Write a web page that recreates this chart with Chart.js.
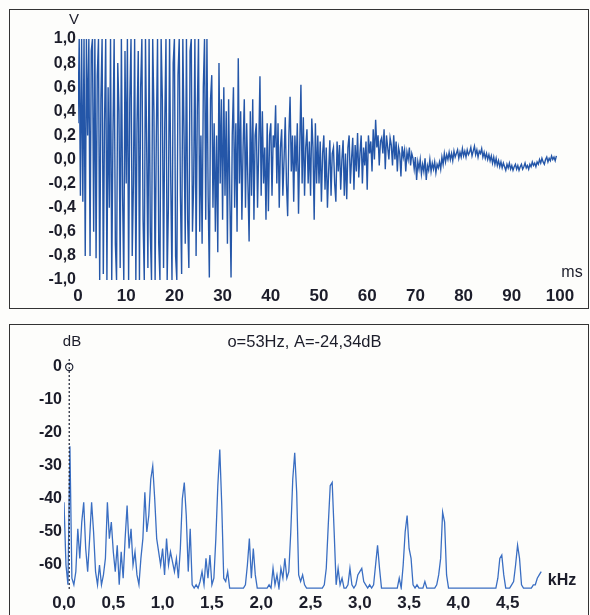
<!DOCTYPE html>
<html><head><meta charset="utf-8">
<script src="https://cdn.jsdelivr.net/npm/chart.js@4"></script>
<style>
html,body{margin:0;padding:0;background:#fdfdfb;width:590px;height:615px;overflow:hidden;position:relative;}
.box{position:absolute;border:1.5px solid #333;box-sizing:border-box;}
#box1{left:9px;top:9px;width:580px;height:300px;}
#box2{left:9px;top:324px;width:580px;height:310px;}
canvas{position:absolute;left:0;}
#c1{top:0}
#c2{top:315px}
</style></head><body>
<div class="box" id="box1"></div><div class="box" id="box2"></div>
<canvas id="c1" width="590" height="315" style="width:590px;height:315px"></canvas>
<canvas id="c2" width="590" height="300" style="width:590px;height:300px"></canvas>
<script>
// ---------- Top chart: waveform (V vs ms), one sample every 0.25 ms ----------
const waveStepMs = 0.25;
const waveVolts = [
 0.3, 1.0, -0.3, 1.0, -0.35, 1.0, -0.8, 1.0, 0.2, 1.0, -0.8, 0.9, 1.0, -0.6, 1.0, -0.82, 0.7, 1.0, -1.0, 0.5,
 1.0, -0.95, 0.3, 1.0, -1.0, 0.6, -0.4, 1.0, -1.0, 0.2, 1.0, -0.7, -1.0, 0.8, 0.4, -0.9, 1.0, -0.3, -1.0, 0.9,
 -0.2, 1.0, -1.0, 0.5, 1.0, -0.8, -0.2, 1.0, -1.0, 0.3, 0.9, -1.0, 0.6, 1.0, -0.5, -1.0, 1.0, 0.1, -0.9, 1.0,
 -0.6, -1.0, 1.0, 0.4, -1.0, 0.2, 1.0, -0.7, -1.0, 1.0, 0.5, -0.9, 0.3, 1.0, -1.0, -0.4, 1.0, -0.2, -1.0, 0.8,
 1.0, -0.8, -1.0, 0.7, 1.0, -0.3, -0.95, 1.0, 0.2, -0.7, 1.0, -0.5, -0.9, 0.9, 1.0, -0.6, -0.2, 1.0, -0.8, 0.4,
 1.0, -0.6, 0.2, -0.7, 0.6, 1.0, -0.5, 1.0, -0.3, -0.98, 0.5, 0.7, -0.4, 0.3, -0.6, 0.2, -0.77, 0.8, -0.2, 0.5,
 -0.5, 0.6, -0.3, 0.4, -0.7, 0.5, -0.3, -0.98, 0.2, 0.6, -0.4, 0.3, -0.6, 0.84, -0.2, 0.4, -0.5, 0.1, 0.5, -0.4,
 0.3, -0.2, -0.68, 0.4, -0.3, 0.5, -0.5, 0.2, 0.3, -0.4, 0.1, 0.69, -0.3, 0.4, -0.2, 0.1, -0.5, 0.3, -0.43, 0.2,
 0.3, -0.3, 0.2, 0.1, 0.45, -0.2, 0.3, -0.4, 0.1, 0.25, -0.3, 0.0, 0.35, -0.2, -0.47, 0.2, 0.52, -0.1, 0.2, -0.35,
 0.2, -0.1, 0.3, -0.45, 0.1, 0.62, -0.2, 0.35, -0.3, 0.1, 0.25, -0.2, 0.15, -0.3, 0.34, 0.1, -0.5, 0.3, -0.2, 0.2,
 -0.2, 0.15, -0.35, 0.05, 0.2, -0.25, 0.1, -0.4, -0.1, 0.16, -0.3, 0.05, 0.1, -0.2, -0.35, 0.15, -0.1, 0.12, -0.25, 0.0,
 0.16, -0.3, 0.05, -0.33, 0.1, 0.2, -0.2, 0.0, 0.18, -0.25, 0.12, -0.1, 0.22, -0.15, 0.05, 0.2, -0.2, 0.1, -0.05, 0.15,
 -0.25, 0.2, 0.05, 0.15, -0.1, 0.25, 0.0, 0.33, 0.1, 0.2, -0.05, 0.15, 0.18, 0.05, 0.25, -0.08, 0.2, 0.1, 0.0, 0.18,
 0.12, -0.05, 0.2, 0.0, 0.15, -0.1, 0.1, 0.05, -0.14, 0.11, 0.02, 0.08, -0.1, 0.06, 0.0, 0.1, -0.05, 0.05, 0.01, -0.08,
 0.02, -0.17, -0.02, -0.08, 0.0, -0.12, -0.04, -0.1, 0.01, -0.17, -0.05, -0.09, 0.0, -0.1, -0.03, -0.08, -0.02, -0.11, -0.04, -0.07,
 -0.02, -0.08, 0.02, -0.04, 0.05, -0.02, 0.04, 0.0, 0.06, 0.0, 0.05, -0.01, 0.07, 0.02, 0.05, 0.08, 0.01, 0.06, 0.02, 0.09,
 0.03, 0.07, 0.02, 0.08, 0.04, 0.06, 0.1, 0.03, 0.07, 0.11, 0.04, 0.08, 0.02, 0.07, 0.05, 0.09, 0.02, 0.06, 0.01, 0.05,
 0.0, 0.04, -0.01, 0.03, -0.03, 0.02, -0.04, 0.01, -0.05, -0.01, -0.06, -0.02, -0.07, -0.03, -0.06, -0.09, -0.04, -0.07, -0.03, -0.08,
 -0.05, -0.09, -0.06, -0.04, -0.08, -0.05, -0.09, -0.06, -0.04, -0.08, -0.06, -0.03, -0.07, -0.05, -0.08, -0.04, -0.06, -0.02, -0.05, -0.03,
 -0.06, -0.02, -0.04, 0.0, -0.03, 0.01, -0.02, -0.04, 0.0, 0.02, -0.02, 0.01, -0.01, 0.03, 0.0, 0.02, -0.01, 0.03
];
const timeTicks = [0, 10, 20, 30, 40, 50, 60, 70, 80, 90, 100];
const voltTicks = [1.0, 0.8, 0.6, 0.4, 0.2, 0.0, -0.2, -0.4, -0.6, -0.8, -1.0];
const topYUnit = 'V';
const topXUnit = 'ms';

// ---------- Bottom chart: spectrum (dB vs kHz), one bin every 0.02 kHz ----------
const specStepKHz = 0.02;
const specDb = [
 -41, -60, -66, -24, -64, -66, -62, -49, -58, -47, -41, -55, -62, -52, -41, -50, -62, -66, -60, -66, -63, -58, -41, -52, -47,
 -56, -62, -54, -66, -56, -64, -52, -42, -55, -49, -60, -56, -63, -66, -58, -52, -38, -50, -45, -34, -30, -40, -52, -56, -60,
 -55, -63, -52, -60, -56, -59, -62, -58, -64, -55, -40, -35, -45, -62, -49, -66, -67, -66, -67, -65, -62, -66, -58, -64, -57,
 -66, -64, -52, -36, -25, -42, -64, -65, -62, -67, -67, -67, -67, -67, -67, -67, -67, -66, -60, -52, -64, -55, -63, -67, -67,
 -67, -67, -67, -67, -66, -67, -61, -66, -63, -67, -61, -64, -58, -64, -62, -50, -34, -26, -38, -63, -65, -63, -66, -67, -67,
 -67, -67, -67, -67, -67, -67, -67, -66, -61, -48, -36, -35, -50, -66, -61, -66, -64, -67, -67, -66, -61, -66, -67, -66, -63,
 -62, -61, -65, -66, -67, -66, -67, -66, -60, -54, -61, -67, -67, -67, -67, -67, -67, -67, -67, -67, -64, -67, -60, -50, -45,
 -55, -58, -66, -67, -66, -67, -67, -67, -65, -67, -67, -67, -67, -67, -66, -63, -58, -44, -47, -63, -67, -67, -67, -67, -67,
 -67, -67, -67, -67, -67, -67, -67, -67, -67, -67, -67, -67, -67, -67, -67, -67, -67, -67, -67, -67, -64, -58, -57, -63, -67,
 -67, -67, -66, -65, -60, -54, -58, -66, -67, -67, -67, -67, -67, -66, -66, -64, -63, -62
];
const freqTicks = [0.0, 0.5, 1.0, 1.5, 2.0, 2.5, 3.0, 3.5, 4.0, 4.5];
const dbTicks = [0, -10, -20, -30, -40, -50, -60];
const cursorKHz = 0.053;
const cursorText = 'o=53Hz, A=-24,34dB';
const botYUnit = 'dB';
const botXUnit = 'kHz';

// ---------- styling ----------
const FONT = '"Liberation Sans", Arial, sans-serif';
const TEXT = '#1c1d2a';
const comma = v => (Math.abs(v) < 1e-9 ? 0 : v).toFixed(1).replace('.', ',');

const topAnnot = {
  id: 'topAnnot',
  afterDraw(chart) {
    const { ctx, chartArea: a } = chart;
    ctx.save();
    ctx.fillStyle = TEXT; ctx.textAlign = 'center'; ctx.textBaseline = 'middle';
    ctx.font = `15px ${FONT}`;
    ctx.fillText(topYUnit, a.left - 4, a.top - 19);
    ctx.font = `16px ${FONT}`;
    ctx.fillText(topXUnit, a.right + 12, a.bottom - 7);
    ctx.restore();
  }
};

const botAnnot = {
  id: 'botAnnot',
  afterDraw(chart) {
    const { ctx, chartArea: a, scales } = chart;
    const cx = scales.x.getPixelForValue(cursorKHz);
    const cy = scales.y.getPixelForValue(0);
    ctx.save();
    ctx.strokeStyle = '#1e2233'; ctx.lineWidth = 1.2;
    ctx.setLineDash([2, 2]);
    ctx.beginPath(); ctx.moveTo(cx, a.top - 8); ctx.lineTo(cx, a.bottom); ctx.stroke();
    ctx.setLineDash([]);
    ctx.beginPath(); ctx.arc(cx, cy, 3.6, 0, Math.PI * 2); ctx.stroke();
    ctx.fillStyle = TEXT; ctx.textAlign = 'center'; ctx.textBaseline = 'middle';
    ctx.font = `15px ${FONT}`;
    ctx.fillText(botYUnit, a.left + 8, a.top - 25);
    ctx.font = `16.5px ${FONT}`;
    ctx.fillText(cursorText, (a.left + a.right) / 2 - 6, a.top - 25);
    ctx.font = `bold 16px ${FONT}`;
    ctx.fillText(botXUnit, a.right + 5, a.bottom - 9);
    ctx.restore();
  }
};

new Chart(document.getElementById('c1'), {
  type: 'line',
  data: { datasets: [{
    data: waveVolts.map((v, i) => ({ x: i * waveStepMs, y: v })),
    borderColor: '#2456a8', borderWidth: 1.4, pointRadius: 0, tension: 0, fill: false
  }]},
  options: {
    responsive: false, animation: false, events: [],
    layout: { padding: { left: 0, right: 30, top: 39, bottom: 9 } },
    plugins: { legend: { display: false }, tooltip: { enabled: false } },
    scales: {
      x: {
        type: 'linear', min: 0, max: 100,
        grid: { display: false, drawTicks: false }, border: { display: false },
        afterBuildTicks: s => { s.ticks = timeTicks.map(v => ({ value: v })); },
        afterFit: s => { s.height = 26; },
        ticks: { padding: 6, color: TEXT, autoSkip: false, maxRotation: 0,
          font: { family: FONT, size: 17, weight: 'bold' }, callback: v => String(v) }
      },
      y: {
        type: 'linear', min: -1, max: 1,
        grid: { display: false, drawTicks: false }, border: { display: false },
        afterBuildTicks: s => { s.ticks = voltTicks.map(v => ({ value: v })); },
        afterFit: s => { s.width = 78; },
        ticks: { padding: 2, color: TEXT, autoSkip: false,
          font: { family: FONT, size: 16, weight: 'bold' }, callback: v => comma(v) }
      }
    }
  },
  plugins: [topAnnot]
});

new Chart(document.getElementById('c2'), {
  type: 'line',
  data: { datasets: [{
    data: specDb.map((v, i) => ({ x: i * specStepKHz, y: v })),
    borderColor: '#3a6ec2', borderWidth: 1.3, pointRadius: 0, tension: 0, fill: false
  }]},
  options: {
    responsive: false, animation: false, events: [],
    layout: { padding: { left: 0, right: 33, top: 52, bottom: 5.25 } },
    plugins: { legend: { display: false }, tooltip: { enabled: false } },
    scales: {
      x: {
        type: 'linear', min: 0, max: 5,
        grid: { display: false, drawTicks: false }, border: { display: false },
        afterBuildTicks: s => { s.ticks = freqTicks.map(v => ({ value: v })); },
        afterFit: s => { s.height = 20; },
        ticks: { padding: 3, color: TEXT, autoSkip: false, maxRotation: 0,
          font: { family: FONT, size: 17, weight: 'bold' }, callback: v => comma(v) }
      },
      y: {
        type: 'linear', min: -67.5, max: 0,
        grid: { display: false, drawTicks: false }, border: { display: false },
        afterBuildTicks: s => { s.ticks = dbTicks.map(v => ({ value: v })); },
        afterFit: s => { s.width = 64; },
        ticks: { padding: 2, color: TEXT, autoSkip: false,
          font: { family: FONT, size: 16, weight: 'bold' }, callback: v => String(v) }
      }
    }
  },
  plugins: [botAnnot]
});
</script>
</body></html>
